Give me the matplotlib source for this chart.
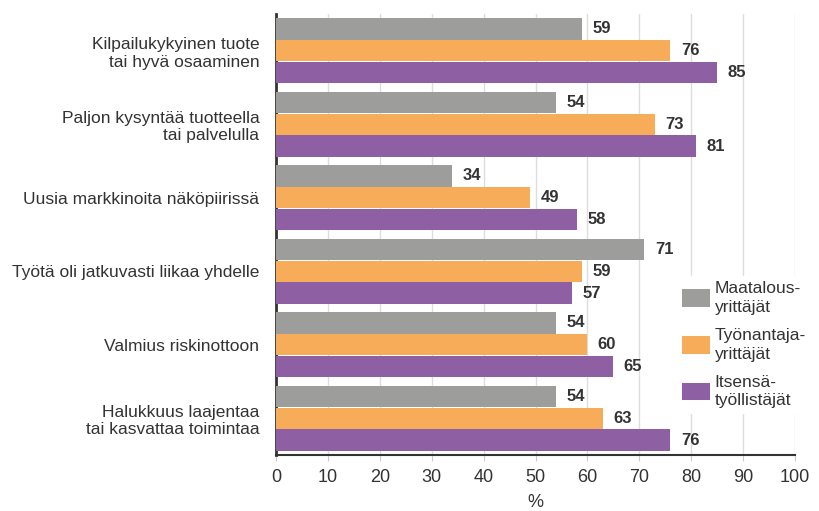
import numpy as np
import matplotlib
matplotlib.use('Agg')
import matplotlib.pyplot as plt

plt.rcParams['font.family'] = ['Liberation Sans Narrow', 'Liberation Sans', 'DejaVu Sans']

categories = ['Kilpailukykyinen tuote\ntai hyvä osaaminen',
              'Paljon kysyntää tuotteella\ntai palvelulla',
              'Uusia markkinoita näköpiirissä',
              'Työtä oli jatkuvasti liikaa yhdelle',
              'Valmius riskinottoon',
              'Halukkuus laajentaa\ntai kasvattaa toimintaa']
maatalous = [59, 54, 34, 71, 54, 54]
tyonantaja = [76, 73, 49, 59, 60, 63]
itsensa = [85, 81, 58, 57, 65, 76]
series_names = ['Maatalous-\nyrittäjät', 'Työnantaja-\nyrittäjät', 'Itsensä-\ntyöllistäjät']
colors = ['#9d9d9c', '#f7ac5a', '#8f5fa3']
xticks = [0, 10, 20, 30, 40, 50, 60, 70, 80, 90, 100]

fig = plt.figure(figsize=(8.19, 5.11), dpi=100)
ax = fig.add_axes([276/819, 56/511, 519/819, 441/511])

y = np.arange(len(categories))
h = 0.29
txt = '#333333'
for i, (vals, name, c) in enumerate(zip([maatalous, tyonantaja, itsensa], series_names, colors)):
    pos = y + (i - 1) * (h + 0.006)
    bars = ax.barh(pos, vals, height=h, color=c, label=name, zorder=3)
    for b, v in zip(bars, vals):
        ax.text(v + 2, b.get_y() + b.get_height() / 2, str(v), va='center', ha='left',
                fontsize=12, fontweight='bold', color=txt, zorder=4)

ax.set_ylim(len(categories) - 0.5, -0.5)
ax.set_xlim(0, 100)
ax.set_yticks(y)
ax.set_yticklabels(categories, fontsize=12.5, color=txt, linespacing=1.2)
ax.set_xticks(xticks)
ax.set_xticklabels([str(t) for t in xticks], fontsize=13, color=txt)
ax.tick_params(axis='y', length=0, pad=12)
ax.tick_params(axis='x', length=4, color='#cccccc', pad=6)
ax.grid(axis='x', color='#dddddd', linewidth=1, zorder=0)
ax.set_xlabel('%', fontsize=13, color=txt, labelpad=6)
for s in ['top', 'right']:
    ax.spines[s].set_visible(False)
ax.spines['left'].set_color('#333333')
ax.spines['left'].set_linewidth(2)
ax.spines['bottom'].set_color('#333333')
ax.spines['bottom'].set_linewidth(1.5)

leg = ax.legend(loc='center left', bbox_to_anchor=(0.755, 0.25), frameon=True, fontsize=12.5,
                handlelength=1.6, handleheight=1.2, handletextpad=0.3, labelspacing=0.75,
                borderpad=0.3, labelcolor=txt)
for t in leg.get_texts():
    t.set_linespacing(1.3)
leg.get_frame().set_facecolor('white')
leg.get_frame().set_edgecolor('white')
leg.get_frame().set_alpha(1)
leg.set_zorder(5)

fig.savefig('out.png', dpi=100)
